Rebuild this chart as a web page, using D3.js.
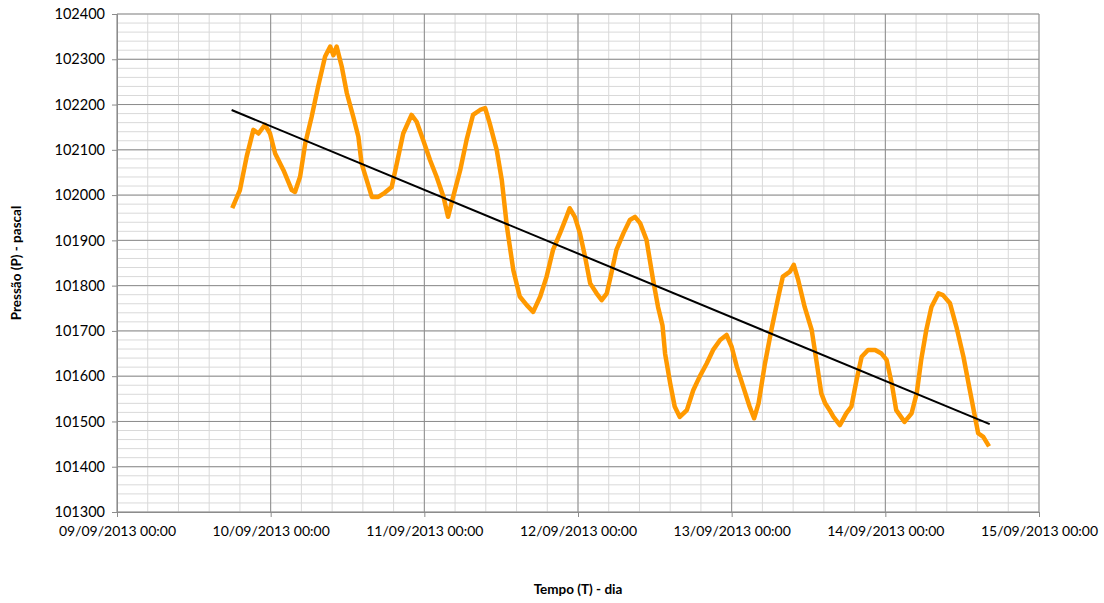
<!DOCTYPE html>
<html>
<head>
<meta charset="utf-8">
<script src="https://cdn.jsdelivr.net/npm/d3@7"></script>
<style>
  body { margin: 0; background: #fff; }
  svg { font-family: Lato, "Open Sans", sans-serif; }
</style>
</head>
<body>
<svg width="1104" height="603"></svg>
<script>
// hours since 09/09/2013 00:00, pressure in pascal
var hours = [18.0, 19.2, 20.25, 21.3, 22.1, 23.1, 23.9, 24.7, 26.0, 27.3, 27.8, 28.6, 29.4, 30.4, 31.4, 32.5, 33.3, 33.8, 34.3, 35.1,
  35.9, 36.9, 37.7, 38.2, 39.0, 39.8, 40.8, 41.8, 42.9, 43.7, 44.7, 46.0, 46.8, 47.8, 48.9, 49.9, 51.0, 51.7, 52.5, 53.6,
  54.6, 55.6, 56.7, 57.5, 58.2, 59.3, 60.1, 60.9, 61.9, 62.9, 64.0, 65.0, 66.1, 67.1, 68.1, 69.2, 70.2, 70.7, 71.5, 72.3,
  73.1, 73.9, 74.9, 75.7, 76.5, 77.2, 78.0, 79.1, 80.1, 80.9, 81.7, 82.7, 83.7, 84.5, 85.2, 85.6, 86.4, 87.1, 87.9, 89.0,
  90.0, 91.0, 92.1, 93.1, 94.2, 95.2, 96.0, 96.8, 97.8, 98.8, 99.5, 100.2, 101.2, 102.2, 103.3, 104.0, 105.1, 105.7, 106.4, 107.4,
  108.5, 109.3, 110.0, 110.6, 111.3, 111.9, 112.9, 113.9, 114.7, 115.5, 116.3, 117.3, 118.4, 119.4, 120.2, 121.0, 121.7, 123.0, 124.1, 124.9,
  125.6, 126.4, 127.2, 128.3, 129.0, 130.1, 131.1, 132.2, 133.2, 134.0, 134.5, 135.3, 136.2];
var pressure = [101971, 102011, 102085, 102144, 102136, 102155, 102136, 102092, 102055, 102011, 102007, 102041, 102114, 102173, 102239, 102306, 102328, 102309, 102328, 102284,
  102225, 102173, 102129, 102070, 102033, 101996, 101996, 102005, 102018, 102070, 102136, 102177, 102162, 102122, 102077, 102041, 101996, 101952, 101996, 102055,
  102122, 102177, 102188, 102192, 102159, 102100, 102033, 101930, 101834, 101776, 101757, 101742, 101776, 101820, 101879, 101916, 101952, 101971, 101952, 101916,
  101864, 101805, 101783, 101768, 101783, 101827, 101879, 101916, 101945, 101952, 101938, 101901, 101815, 101753, 101712, 101650, 101584, 101533, 101510, 101525,
  101569, 101599, 101628, 101658, 101680, 101691, 101665, 101621, 101577, 101533, 101507, 101540, 101628, 101702, 101776, 101820, 101831, 101846, 101812, 101753,
  101702, 101628, 101562, 101540, 101525, 101510, 101492, 101518, 101533, 101591, 101643, 101658, 101658, 101650, 101636, 101584, 101525, 101499, 101518, 101562,
  101636, 101702, 101753, 101783, 101779, 101761, 101709, 101643, 101569, 101510, 101474, 101466, 101445];

// linear trend line end points
var trendHours = [17.9, 136.3];
var trendPressure = [102188, 101494];

var yTicks = [101300, 101400, 101500, 101600, 101700, 101800, 101900, 102000, 102100, 102200, 102300, 102400];
var dayTicks = [0, 1, 2, 3, 4, 5, 6];

var start = new Date(2013, 8, 9, 0, 0);
function toDate(h) { return new Date(start.getTime() + h * 3600000); }

var svg = d3.select('svg');
var plotLeft = 117, plotRight = 1039, plotTop = 14, plotBottom = 512;

var xScale = d3.scaleTime()
  .domain([start, toDate(144)])
  .range([plotLeft, plotRight]);

var yScale = d3.scaleLinear()
  .domain([101300, 102400])
  .range([plotBottom, plotTop]);

// minor grid
var minorY = d3.range(101300, 102401, 20);
svg.append('g').selectAll('line')
  .data(minorY)
  .enter().append('line')
  .attr('x1', plotLeft).attr('x2', plotRight)
  .attr('y1', d => yScale(d)).attr('y2', d => yScale(d))
  .style('stroke', '#d9d9d9').style('stroke-width', 1);

var minorX = d3.range(0, 144.01, 4.8);
svg.append('g').selectAll('line')
  .data(minorX)
  .enter().append('line')
  .attr('x1', d => xScale(toDate(d))).attr('x2', d => xScale(toDate(d)))
  .attr('y1', plotTop).attr('y2', plotBottom)
  .style('stroke', '#d9d9d9').style('stroke-width', 1);

// major grid
svg.append('g').selectAll('line')
  .data(yTicks)
  .enter().append('line')
  .attr('x1', plotLeft).attr('x2', plotRight)
  .attr('y1', d => yScale(d)).attr('y2', d => yScale(d))
  .style('stroke', '#8c8c8c').style('stroke-width', 1);

svg.append('g').selectAll('line')
  .data(dayTicks)
  .enter().append('line')
  .attr('x1', d => xScale(toDate(d * 24))).attr('x2', d => xScale(toDate(d * 24)))
  .attr('y1', plotTop).attr('y2', plotBottom)
  .style('stroke', '#8c8c8c').style('stroke-width', 1);

// axes
var yAxis = d3.axisLeft(yScale)
  .tickValues(yTicks)
  .tickSize(5)
  .tickPadding(7)
  .tickFormat(d3.format('d'));

var xAxis = d3.axisBottom(xScale)
  .tickValues(dayTicks.map(d => toDate(d * 24)))
  .tickSize(5)
  .tickPadding(9)
  .tickFormat(d3.timeFormat('%d/%m/%Y %H:%M'));

var gy = svg.append('g')
  .attr('transform', 'translate(' + plotLeft + ',0)')
  .call(yAxis);

var gx = svg.append('g')
  .attr('transform', 'translate(0,' + plotBottom + ')')
  .call(xAxis);

[gy, gx].forEach(g => {
  g.select('.domain').style('stroke', '#8c8c8c');
  g.selectAll('.tick line').style('stroke', '#8c8c8c');
  g.selectAll('text').style('font-size', '14px').style('fill', '#000')
    .style('font-family', 'Lato, "Open Sans", sans-serif');
});
gy.selectAll('text').style('font-size', '14.5px');

// pressure series
var series = hours.map((h, i) => ({ t: toDate(h), p: pressure[i] }));
var line = d3.line()
  .x(d => xScale(d.t))
  .y(d => yScale(d.p));

svg.append('path')
  .datum(series)
  .attr('d', line)
  .style('fill', 'none')
  .style('stroke', '#ff9900')
  .style('stroke-width', 4.5)
  .style('stroke-linejoin', 'round');

// trend
var trend = trendHours.map((h, i) => ({ t: toDate(h), p: trendPressure[i] }));
svg.append('path')
  .datum(trend)
  .attr('d', line)
  .style('fill', 'none')
  .style('stroke', '#000')
  .style('stroke-width', 2);

// titles
svg.append('text')
  .attr('x', (plotLeft + plotRight) / 2)
  .attr('y', 594)
  .attr('text-anchor', 'middle')
  .style('font-size', '13.5px')
  .style('font-weight', 'bold')
  .text('Tempo (T) - dia');

svg.append('text')
  .attr('transform', 'translate(21,' + (plotTop + plotBottom) / 2 + ')rotate(-90)')
  .attr('text-anchor', 'middle')
  .style('font-size', '13.5px')
  .style('font-weight', 'bold')
  .text('Pressão (P) - pascal');
</script>
</body>
</html>
